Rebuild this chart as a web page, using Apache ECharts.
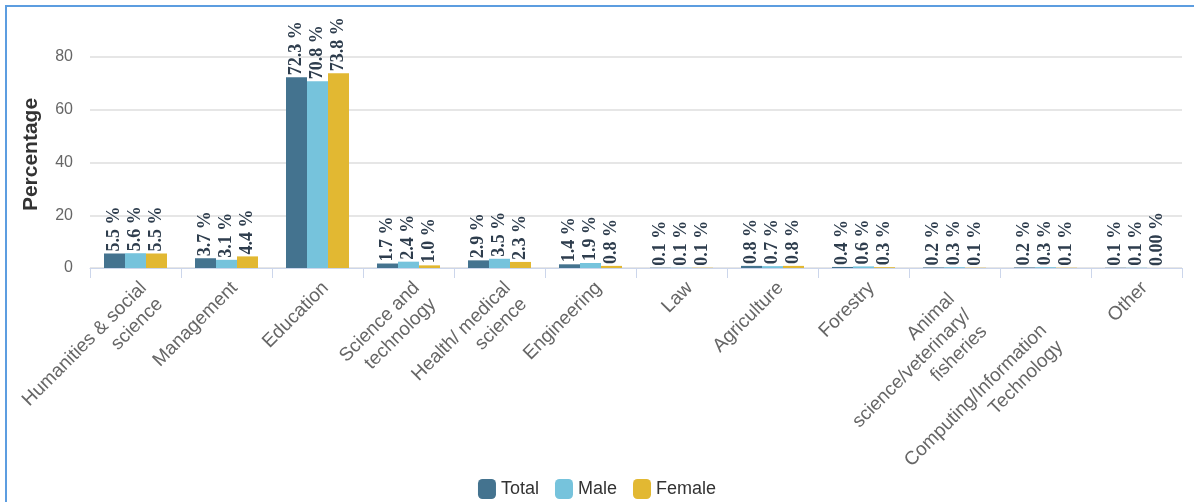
<!DOCTYPE html>
<html>
<head>
<meta charset="utf-8">
<script src="https://cdn.jsdelivr.net/npm/echarts@6/dist/echarts.min.js"></script>
<style>
  html, body { margin: 0; padding: 0; background: #fff; }
  #chart { width: 1194px; height: 502px; position: absolute; left: 0; top: 0; }
  #frame { position: absolute; left: 5px; top: 5px; width: 1200px; height: 520px;
           border-top: 2px solid #5c9de0; border-left: 2px solid #5c9de0; pointer-events: none; }
</style>
</head>
<body>
<div id="chart"></div>
<div id="frame"></div>
<script>
const categories = [
  "Humanities & social\nscience", "Management", "Education", "Science and\ntechnology",
  "Health/ medical\nscience", "Engineering", "Law", "Agriculture", "Forestry",
  "Animal\nscience/veterinary/\nfisheries", "Computing/Information\nTechnology", "Other"
];
const totalValues  = [5.5, 3.7, 72.3, 1.7, 2.9, 1.4, 0.1, 0.8, 0.4, 0.2, 0.2, 0.1];
const maleValues   = [5.6, 3.1, 70.8, 2.4, 3.5, 1.9, 0.1, 0.7, 0.6, 0.3, 0.3, 0.1];
const femaleValues = [5.5, 4.4, 73.8, 1.0, 2.3, 0.8, 0.1, 0.8, 0.3, 0.1, 0.1, 0.00];
const femaleLabels = ["5.5", "4.4", "73.8", "1.0", "2.3", "0.8", "0.1", "0.8", "0.3", "0.1", "0.1", "0.00"];
const yTicks = [0, 20, 40, 60, 80];

// the reference places a couple of the long wrapped labels slightly lower/left than the others
function xLabelFormatter(value, index) {
  if (index === 10) {
    return '\n' + value.split('\n').map(s => s + '       ').join('\n');
  }
  if (index === 9) {
    return value.split('\n').map(s => s + '   ').join('\n');
  }
  return value;
}

const chart = echarts.init(document.getElementById('chart'));
function labelCfg(strs) {
  return {
    show: true, position: 'top', rotate: 90, align: 'left', verticalAlign: 'middle',
    distance: 2,
    fontFamily: '"Liberation Serif", "DejaVu Serif", serif', fontWeight: 'bold', fontSize: 18,
    color: '#2e3d4d',
    formatter: p => (strs ? strs[p.dataIndex] : p.value.toFixed(1)) + ' %'
  };
}
const barBase = { type: 'bar', barWidth: 21, barGap: '0%' };
chart.setOption({
  animation: false,
  grid: { left: 90, right: 12, top: 57, bottom: 234, containLabel: false },
  legend: {
    top: 474, left: 'center', icon: 'roundRect', itemWidth: 18, itemHeight: 20, itemGap: 16,
    textStyle: { fontSize: 18, color: '#333', fontFamily: '"Liberation Sans", Arial, sans-serif' },
    data: ['Total', 'Male', 'Female']
  },
  xAxis: {
    type: 'category', data: categories,
    axisLine: { lineStyle: { color: '#ccd6eb', width: 1 } },
    axisTick: { show: true, length: 10, alignWithLabel: false, lineStyle: { color: '#ccd6eb' } },
    axisLabel: {
      interval: 0, rotate: 45, margin: 9, color: '#666', fontSize: 19, lineHeight: 23,
      fontFamily: '"Liberation Sans", Arial, sans-serif', verticalAlign: 'top',
      formatter: xLabelFormatter
    }
  },
  yAxis: {
    type: 'value', min: 0, max: yTicks[yTicks.length - 1], interval: 20,
    name: 'Percentage', nameLocation: 'middle', nameGap: 48, nameRotate: 90,
    nameTextStyle: { fontSize: 21, fontWeight: 'bold', color: '#333', padding: [0, 0, 0, 16],
                     fontFamily: '"Liberation Sans", Arial, sans-serif' },
    axisLine: { show: false }, axisTick: { show: false },
    axisLabel: { color: '#666', fontSize: 16, margin: 17,
                 fontFamily: '"Liberation Sans Narrow", "Liberation Sans", Arial, sans-serif' },
    splitLine: { lineStyle: { color: '#e6e6e6', width: 2 } }
  },
  series: [
    Object.assign({}, barBase, { name: 'Total', data: totalValues, itemStyle: { color: '#44738f' }, label: labelCfg() }),
    Object.assign({}, barBase, { name: 'Male', data: maleValues, itemStyle: { color: '#76c3dc' }, label: labelCfg() }),
    Object.assign({}, barBase, { name: 'Female', data: femaleValues, itemStyle: { color: '#e2b832' }, label: labelCfg(femaleLabels) })
  ]
});
</script>
</body>
</html>
